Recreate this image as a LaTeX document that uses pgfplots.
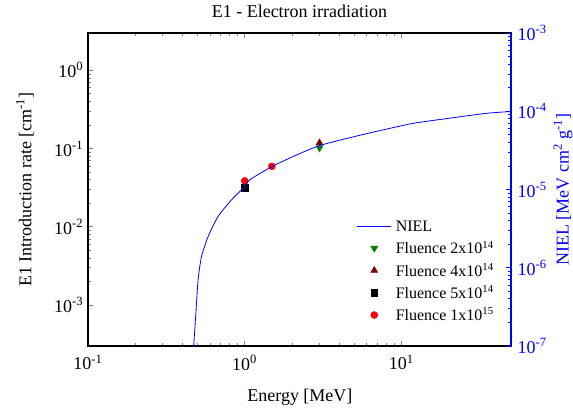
\documentclass[border=0pt]{standalone}
\usepackage{fontspec}
\setmainfont{Liberation Serif}
\usepackage{pgfplots}
\pgfplotsset{compat=1.18}

\definecolor{fgreen}{RGB}{0,128,0}
\definecolor{fdarkred}{RGB}{128,0,0}

% \tick holds ln(value) on a log axis
\newcommand{\logtick}{10\textsuperscript{\pgfmathparse{int(round(\tick/2.302585))}\pgfmathresult}}

\begin{document}
\begin{tikzpicture}[font=\fontsize{13.5}{16}\selectfont]
\begin{axis}[
    scale only axis,
    width=317.25pt, height=234.75pt,
    xmode=log, ymode=log,
    xmin=0.1, xmax=50,
    ymin=3e-4, ymax=3,
    xtick={0.1,1,10},
    ytick={1e-3,1e-2,1e-1,1},
    xticklabel={\logtick},
    yticklabel={\logtick},
    xticklabel style={yshift=-3pt},
    tick align=inside,
    major tick length=4pt, minor tick length=2.2pt,
    name=main,
    ytick pos=left,
    xtick pos=both,
    axis line style={line width=0.9pt},
    tick style={line width=0.6pt},
    title={E1 - Electron irradiation},
    every axis title shift=0pt,
    title style={at={(axis description cs:0.5,1.068)}, anchor=center},
    xlabel={Energy [MeV]},
    xlabel style={at={(axis description cs:0.501,-0.162)}, anchor=center},
    ylabel={E1 Introduction rate [cm\textsuperscript{-1}]},
    ylabel style={at={(axis description cs:-0.149,0.5)}, anchor=center},
    legend style={draw=none, fill=none, inner sep=0pt,
      at={(axis description cs:0.635,0.42)}, anchor=north west,
      font=\fontsize{12}{14}\selectfont,
      nodes={text height=9.5pt, text depth=1pt, inner sep=3.1pt},
      row sep=0pt, column sep=0pt},
    legend cell align=left,
    legend image code/.code={\draw[mark repeat=2,mark phase=2,#1] plot coordinates {(0pt,0pt) (12.75pt,0pt) (25.5pt,0pt)};},
]
\addlegendimage{blue, line width=0.6pt, no markers}
\addlegendentry{NIEL}

\addplot[only marks, mark=triangle*, mark size=3pt, mark options={rotate=180}, color=fgreen]
coordinates {
    (3.0,0.102)
};
\addlegendentry{Fluence 2x10\textsuperscript{14}}

\addplot[only marks, mark=triangle*, mark size=3pt, color=fdarkred]
coordinates {
    (3.0,0.118)
};
\addlegendentry{Fluence 4x10\textsuperscript{14}}

\addplot[only marks, mark=square*, mark size=2.4pt, color=black]
coordinates {
    (1.0,0.0315)
};
\addlegendentry{Fluence 5x10\textsuperscript{14}}

\addplot[only marks, mark=*, mark size=2.6pt, color=red]
coordinates {
    (1.0,0.0386)
    (1.49,0.0594)
};
\addlegendentry{Fluence 1x10\textsuperscript{15}}
\end{axis}

\begin{axis}[
    scale only axis,
    width=317.25pt, height=234.75pt,
    xmode=log, ymode=log,
    xmin=0.1, xmax=50,
    ymin=1e-7, ymax=1e-3,
    ytick={1e-7,1e-6,1e-5,1e-4,1e-3},
    yticklabel={\logtick},
    tick align=inside,
    major tick length=4pt, minor tick length=2.2pt,
    axis y line*=right,
    axis x line=none,
    y axis line style={blue, line width=0.9pt},
    tick style={blue, line width=0.6pt},
    yticklabel style={blue, xshift=1.5pt},
    ylabel={NIEL [MeV cm\textsuperscript{2} g\textsuperscript{-1}]},
    ylabel style={blue, at={(axis description cs:1.123,0.5)}, anchor=center},
]
\addplot[blue, line width=0.6pt, smooth, tension=0.4]
coordinates {
    (0.470,5.0e-8)
    (0.473,1.0e-7)
    (0.488,2.63e-7)
    (0.504,7.0e-7)
    (0.530,1.39e-6)
    (0.584,2.50e-6)
    (0.676,4.51e-6)
    (0.823,7.37e-6)
    (1.0,1.09e-5)
    (1.076,1.33e-5)
    (1.49,1.96e-5)
    (2.08,2.69e-5)
    (3.0,3.64e-5)
    (5.0,4.74e-5)
    (7.6,5.77e-5)
    (12.0,7.03e-5)
    (20.2,8.14e-5)
    (35.0,9.42e-5)
    (50.0,9.92e-5)
};
\end{axis}

\pgfresetboundingbox
\path ([shift={(-66pt,-51pt)}]main.south west) rectangle ([shift={(46.5pt,24.75pt)}]main.north east);
\end{tikzpicture}
\end{document}
